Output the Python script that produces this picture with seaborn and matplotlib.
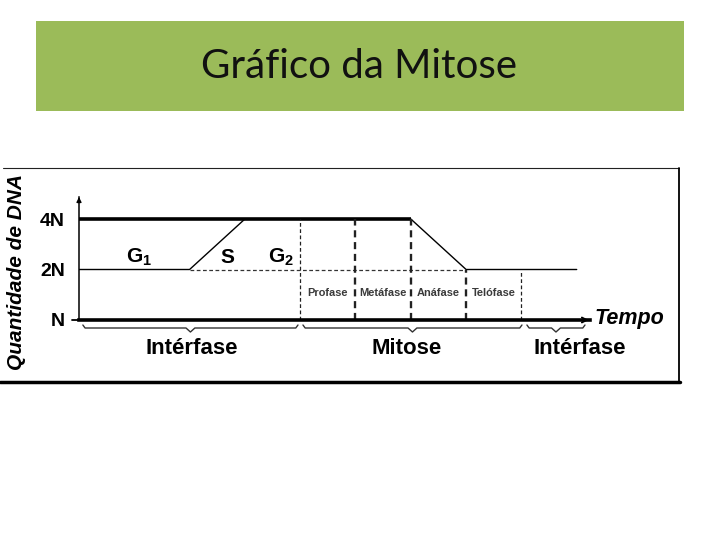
import matplotlib
matplotlib.use("Agg")
import matplotlib.pyplot as plt
import seaborn as sns
import pandas as pd
from matplotlib.patches import Rectangle
from matplotlib.ticker import NullLocator

# ---------------- data ----------------
time_pts = [0, 2, 3, 6, 7, 9]          # cell-cycle time (arbitrary units)
dna_pts = [2, 2, 4, 4, 2, 2]           # DNA amount (multiples of N)
level_values = [1, 2, 4]
level_labels = ["N", "2N", "4N"]
phase_bounds = [4, 5, 6, 7, 8]
phase_tops = [4, 4, 4, 2, 2]
phase_names = ["Profase", "Metáfase", "Anáfase", "Telófase"]
inter_labels = [r"$\mathbf{G_1}$", "S", r"$\mathbf{G_2}$"]
inter_x = [1.08, 2.69, 3.65]
stage_names = ["Intérfase", "Mitose", "Intérfase"]
stage_spans = [(0.07, 3.96), (4.05, 8.01), (8.10, 9.15)]
stage_label_x = [2.04, 5.93, 9.06]

# ---------------- style ----------------
sns.set_theme(style="white")
plt.rcParams["font.family"] = ["Liberation Sans", "DejaVu Sans"]
plt.rcParams["text.color"] = "black"
plt.rcParams["ytick.color"] = "black"
plt.rcParams["xtick.color"] = "black"
plt.rcParams["axes.labelcolor"] = "black"
plt.rcParams["mathtext.fontset"] = "custom"
plt.rcParams["mathtext.rm"] = "Liberation Sans"
plt.rcParams["mathtext.bf"] = "Liberation Sans:bold"
plt.rcParams["mathtext.it"] = "Liberation Sans:italic"

fig = plt.figure(figsize=(7.2, 5.4), dpi=100)
fig.patch.set_facecolor("white")

# slide background (pixel coordinates)
bg = fig.add_axes([0, 0, 1, 1])
bg.set_xlim(0, 720)
bg.set_ylim(540, 0)
bg.axis("off")
bg.add_patch(Rectangle((36, 21), 648, 90, color="#9BBB59", lw=0))
bg.text(359, 67, "Gráfico da Mitose", ha="center", va="center",
        fontsize=29, family=["Lato", "DejaVu Sans"], color="#111111")
bg.plot([3, 679], [168, 168], color="#222222", lw=0.8)
bg.plot([679, 679], [168, 382], color="black", lw=1.3)
bg.plot([0, 680], [382, 382], color="black", lw=2.5)

# chart axes: 55.3 px per time unit, 50.5 px per doubling
px_w, px_h = 511, 123
ax = fig.add_axes([79 / 720, 1 - 320 / 540, px_w / 720, px_h / 540])
ax.patch.set_alpha(0)
ax.set_yscale("log", base=2)
xmax = px_w / 55.3
ymax = 2 ** (px_h / 50.5)

df = pd.DataFrame({"tempo": time_pts, "dna": dna_pts})
sns.lineplot(data=df, x="tempo", y="dna", ax=ax, color="black", lw=1.0,
             estimator=None, sort=False)

ax.set_xlim(0, xmax)
ax.set_ylim(1, ymax)

# thick 4N line through G2 and early mitosis
ax.hlines(4, 0, 6, color="black", lw=2.6)
# dashed 2N reference
ax.hlines(2, 2, 7, color="#333333", lw=0.9, linestyles=(0, (3, 2)))
# phase boundaries
for b, top in zip(phase_bounds, phase_tops):
    lw = 0.9 if b in (4, 8) else 1.7
    ax.vlines(b, 1, top, color="#222222", lw=lw, linestyles=(0, (3, 2)))
for i, name in enumerate(phase_names):
    ax.text((phase_bounds[i] + phase_bounds[i + 1]) / 2, 1.45, name,
            ha="center", va="center", fontsize=7.9, fontweight="bold",
            color="#3a3a3a")

# interphase sub-phase labels
for x, lab in zip(inter_x, inter_labels):
    ax.text(x, 2.36, lab, ha="center", va="center", fontsize=15,
            fontweight="bold", color="black")

# axes
for s in ["top", "right"]:
    ax.spines[s].set_visible(False)
ax.spines["left"].set_linewidth(1.1)
ax.spines["left"].set_color("black")
ax.spines["bottom"].set_linewidth(2.6)
ax.spines["bottom"].set_color("black")
ax.set_yticks(level_values)
ax.set_yticklabels(level_labels, fontsize=14, fontweight="bold", color="black")
ax.yaxis.set_minor_locator(NullLocator())
ax.set_xticks([])
ax.tick_params(axis="y", length=0, pad=10, labelcolor="black")
ax.plot([-0.13, 0], [1, 1], color="black", lw=1.3, clip_on=False)
ax.annotate("", xy=(0, ymax), xytext=(0, ymax / 1.08),
            arrowprops=dict(arrowstyle="-|>", color="black", lw=1.0,
                            mutation_scale=7, shrinkA=0, shrinkB=0),
            annotation_clip=False)
ax.annotate("", xy=(9.22, 1), xytext=(8.9, 1),
            arrowprops=dict(arrowstyle="->", color="black", lw=1.3,
                            mutation_scale=9, shrinkA=0, shrinkB=0),
            annotation_clip=False)
ax.set_xlabel("")
ax.set_ylabel("")
ax.text((17 - 79) / px_w, (320 - 272) / px_h, "Quantidade de DNA",
        transform=ax.transAxes, rotation=90, ha="center", va="center",
        fontsize=15, fontweight="bold", style="italic", color="black")

trans = ax.get_xaxis_transform()
ax.text(9.33, 0.015, "Tempo", transform=trans, ha="left", va="center",
        fontsize=15.5, fontweight="bold", style="italic", color="black",
        clip_on=False)

# stage brackets
yb, ye, yt = -8 / px_h, -5 / px_h, -12 / px_h
for (a, b) in stage_spans:
    c = (a + b) / 2
    xs = [a, a + 0.04, c - 0.08, c, c + 0.08, b - 0.04, b]
    ys = [ye, yb, yb, yt, yb, yb, ye]
    ax.plot(xs, ys, transform=trans, color="#333333", lw=1.0, clip_on=False)
for x, name in zip(stage_label_x, stage_names):
    ax.text(x, -29 / px_h, name, transform=trans, ha="center", va="center",
            fontsize=16, fontweight="bold", color="black")

fig.savefig("out.png", dpi=100)
